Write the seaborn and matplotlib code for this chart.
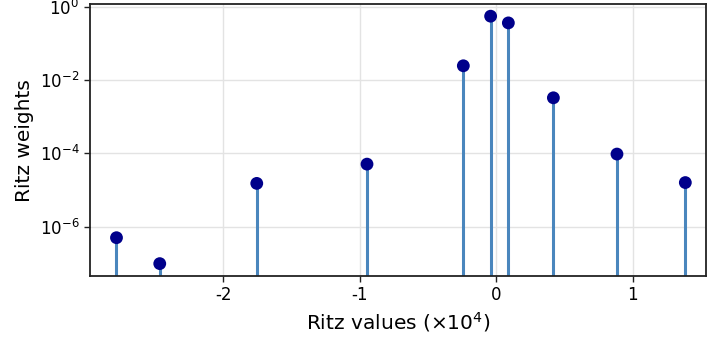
import numpy as np
import pandas as pd
import seaborn as sns
import matplotlib
matplotlib.use("Agg")
import matplotlib.pyplot as plt
from matplotlib.ticker import FixedLocator, NullLocator, LogFormatterMathtext

# Ritz values (in units of 1e4) and their weights
ritz_values = [-2.784, -2.467, -1.756, -0.948, -0.242, -0.042, 0.088, 0.418, 0.884, 1.385]
ritz_weights = [5.0e-7, 9.8e-8, 1.52e-5, 5.1e-5, 2.47e-2, 0.558, 0.366, 3.3e-3, 9.6e-5, 1.6e-5]

df = pd.DataFrame({'value': ritz_values, 'weight': ritz_weights})

sns.set_style('white')
plt.rcParams['font.family'] = ['DejaVu Sans']
plt.rcParams['axes.unicode_minus'] = False
plt.rcParams['text.color'] = 'black'
plt.rcParams['axes.labelcolor'] = 'black'
plt.rcParams['xtick.color'] = 'black'
plt.rcParams['ytick.color'] = 'black'

fig = plt.figure(figsize=(7.18, 3.45), dpi=100)
ax = fig.add_axes([0.125, 0.2, 0.858, 0.788])

ymin, ymax = 4.5e-8, 1.19
ax.set_yscale('log')
ax.set_ylim(ymin, ymax)
ax.set_xlim(-2.98, 1.535)

# stems
ax.vlines(df['value'], ymin, df['weight'], color='#4a86bd', lw=2.2, zorder=2)
sns.scatterplot(x='value', y='weight', data=df, color='#00008b', s=85,
                edgecolor='none', zorder=3, ax=ax)

ax.yaxis.set_major_locator(FixedLocator([1e-6, 1e-4, 1e-2, 1e0]))
ax.yaxis.set_major_formatter(LogFormatterMathtext())
ax.yaxis.set_minor_locator(NullLocator())
ax.set_xticks([-2, -1, 0, 1])
ax.set_xticklabels(['-2', '-1', '0', '1'])

ax.grid(True, color='#e3e3e3', lw=1)
ax.set_axisbelow(True)
for s in ax.spines.values():
    s.set_color('#222222')
    s.set_linewidth(1.3)
ax.tick_params(axis='both', which='major', direction='out', length=4, width=1,
               color='#222222', labelsize=12, left=True, bottom=True)

ax.set_xlabel('Ritz values ($\\times 10^4$)', fontsize=14.5)
ax.set_ylabel('Ritz weights', fontsize=14.5)

fig.savefig('out.png', dpi=100)
